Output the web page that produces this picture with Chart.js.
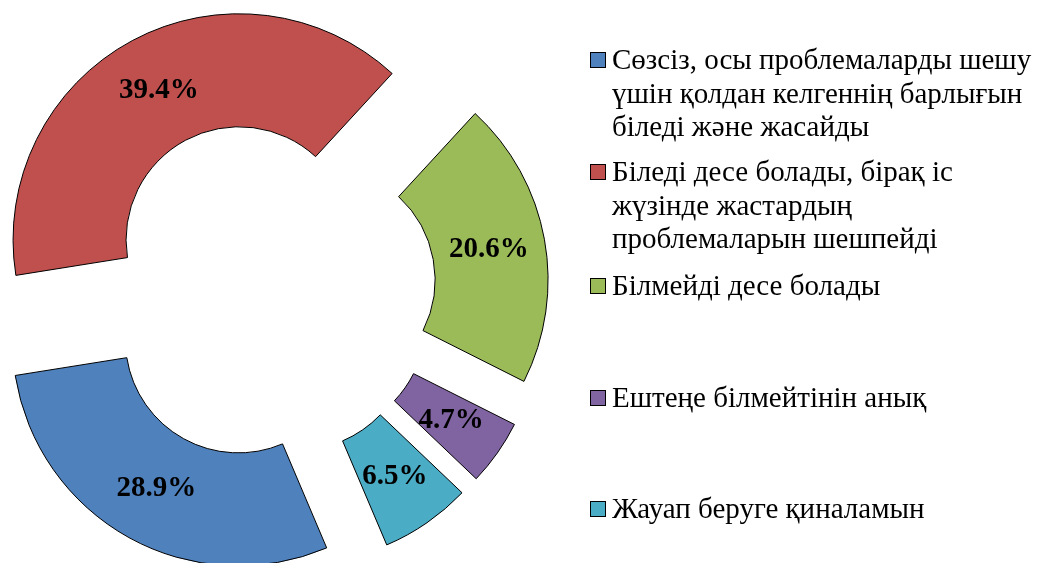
<!DOCTYPE html>
<html>
<head>
<meta charset="utf-8">
<script src="https://cdn.jsdelivr.net/npm/chart.js@4.4.0/dist/chart.umd.min.js"></script>
<style>
    body { margin: 0; background: #fff; }
    #wrap { position: relative; width: 1039px; height: 563px; overflow: hidden; }
    #legend { position: absolute; left: 0; top: 0; }
    .item { position: absolute; left: 590px; font-family: "Liberation Serif", "Times New Roman", serif; font-size: 29px; line-height: 33.5px; color: #000; white-space: nowrap; }
    .box { position: absolute; left: 0; top: 9px; width: 14px; height: 14px; border: 1px solid #000; }
    .txt { position: absolute; left: 22px; top: 0; }
</style>
</head>
<body>
<div id="wrap">
    <canvas id="DonutChart" width="1039" height="563"></canvas>
    <div id="legend"></div>
</div>
<script>
const labels = [
    ["Сөзсіз, осы проблемаларды шешу", "үшін қолдан келгеннің барлығын", "біледі және жасайды"],
    ["Біледі десе болады, бірақ іс", "жүзінде жастардың", "проблемаларын шешпейді"],
    ["Білмейді десе болады"],
    ["Ештеңе білмейтінін анық"],
    ["Жауап беруге қиналамын"]
];
const values = [28.9, 39.4, 20.6, 4.7, 6.5];
const colors = ['#4F81BD', '#C0504D', '#9BBB59', '#8064A2', '#4BACC6'];

// legend entry tops (px)
const legendTops = [43, 155, 269, 381, 492];
const EXPLODE = 57;

// push every slice out along its middle angle
const explodePlugin = {
    id: 'explode',
    afterDatasetUpdate(chart, args) {
        args.meta.data.forEach(arc => {
            const mid = (arc.startAngle + arc.endAngle) / 2;
            arc.x += Math.cos(mid) * EXPLODE;
            arc.y += Math.sin(mid) * EXPLODE;
        });
    }
};

const valueLabels = {
    id: 'valueLabels',
    afterDatasetsDraw(chart) {
        const ctx = chart.ctx;
        const meta = chart.getDatasetMeta(0);
        ctx.save();
        ctx.font = 'bold 29px "Liberation Serif", "Times New Roman", serif';
        ctx.fillStyle = '#000';
        ctx.textAlign = 'center';
        ctx.textBaseline = 'middle';
        meta.data.forEach((arc, i) => {
            const p = arc.tooltipPosition();
            ctx.fillText(values[i].toFixed(1) + '%', p.x, p.y);
        });
        ctx.restore();
    }
};

new Chart(document.getElementById("DonutChart"), {
    type: 'doughnut',
    data: {
        labels: labels.map(l => l.join(' ')),
        datasets: [{
            data: values,
            backgroundColor: colors,
            borderColor: '#000',
            borderWidth: 1,
            clip: false
        }]
    },
    options: {
        responsive: false,
        animation: false,
        devicePixelRatio: 1,
        rotation: 157,
        radius: 226,
        cutout: '50%',
        layout: { padding: { left: 0, right: 507, top: 17, bottom: 0 } },
        events: [],
        plugins: {
            legend: { display: false },
            tooltip: { enabled: false }
        }
    },
    plugins: [explodePlugin, valueLabels]
});

const legendEl = document.getElementById("legend");
labels.forEach((lines, i) => {
    const item = document.createElement("div");
    item.className = "item";
    item.style.top = legendTops[i] + "px";
    const box = document.createElement("div");
    box.className = "box";
    box.style.background = colors[i];
    const txt = document.createElement("div");
    txt.className = "txt";
    txt.innerHTML = lines.join("<br>");
    item.appendChild(box);
    item.appendChild(txt);
    legendEl.appendChild(item);
});
</script>
</body>
</html>
